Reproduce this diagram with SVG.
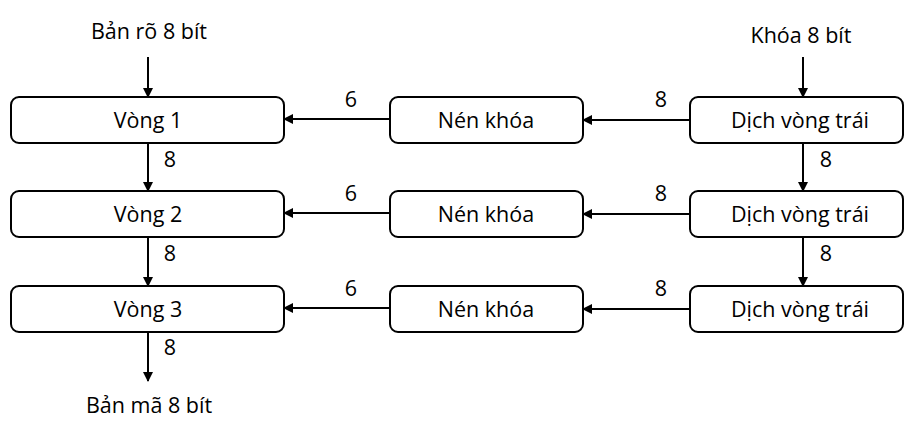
<svg xmlns="http://www.w3.org/2000/svg" width="905" height="421" viewBox="0 0 905 421">
<defs>
<marker id="ah" markerWidth="10" markerHeight="10" refX="9" refY="5" orient="auto" markerUnits="userSpaceOnUse">
<path d="M0,0 L10,5 L0,10 z" fill="#000"/>
</marker>
<style>
.box{fill:#fff;stroke:#000;stroke-width:2}
.t{font-family:"Open Sans","Liberation Sans",sans-serif;font-size:21.5px;fill:#000;text-anchor:middle}
.c{stroke:#000;stroke-width:2;fill:none;marker-end:url(#ah)}
</style>
</defs>
<rect width="905" height="421" fill="#fff"/>
<g id="connectors">
<line class="c" x1="148" y1="57" x2="148" y2="97"/>
<line class="c" x1="803" y1="57" x2="803" y2="97"/>
<line class="c" x1="148" y1="143" x2="148" y2="191"/>
<line class="c" x1="148" y1="237" x2="148" y2="286"/>
<line class="c" x1="148" y1="332" x2="148" y2="381"/>
<line class="c" x1="803" y1="143" x2="803" y2="191"/>
<line class="c" x1="803" y1="237" x2="803" y2="286"/>
<line class="c" x1="690" y1="120" x2="583" y2="120"/>
<line class="c" x1="690" y1="214" x2="583" y2="214"/>
<line class="c" x1="690" y1="309" x2="583" y2="309"/>
<line class="c" x1="390" y1="119" x2="284" y2="119"/>
<line class="c" x1="390" y1="213" x2="284" y2="213"/>
<line class="c" x1="390" y1="308" x2="284" y2="308"/>
<text class="t" x="170" y="167">8</text>
<text class="t" x="170" y="261">8</text>
<text class="t" x="170" y="355">8</text>
<text class="t" x="826" y="167">8</text>
<text class="t" x="826" y="261">8</text>
<text class="t" x="661" y="107">8</text>
<text class="t" x="661" y="201">8</text>
<text class="t" x="661" y="296">8</text>
<text class="t" x="351" y="107">6</text>
<text class="t" x="351" y="201">6</text>
<text class="t" x="351" y="296">6</text>
</g>
<g id="in-plain"><text class="t" x="149" y="39">Bản rõ 8 bít</text></g>
<g id="in-key"><text class="t" x="801" y="43">Khóa 8 bít</text></g>
<g id="out-cipher"><text class="t" x="149" y="413">Bản mã 8 bít</text></g>
<g id="round1"><rect class="box" x="11" y="97" width="273" height="46" rx="8"/><text class="t" x="148" y="128">Vòng 1</text></g>
<g id="round2"><rect class="box" x="11" y="191" width="273" height="46" rx="8"/><text class="t" x="148" y="222">Vòng 2</text></g>
<g id="round3"><rect class="box" x="11" y="286" width="273" height="46" rx="8"/><text class="t" x="148" y="317">Vòng 3</text></g>
<g id="compress1"><rect class="box" x="390" y="97" width="193" height="46" rx="8"/><text class="t" x="486" y="128">Nén khóa</text></g>
<g id="compress2"><rect class="box" x="390" y="191" width="193" height="46" rx="8"/><text class="t" x="486" y="222">Nén khóa</text></g>
<g id="compress3"><rect class="box" x="390" y="286" width="193" height="46" rx="8"/><text class="t" x="486" y="317">Nén khóa</text></g>
<g id="shift1"><rect class="box" x="690" y="97" width="213" height="46" rx="8"/><text class="t" x="800" y="128">Dịch vòng trái</text></g>
<g id="shift2"><rect class="box" x="690" y="191" width="213" height="46" rx="8"/><text class="t" x="800" y="222">Dịch vòng trái</text></g>
<g id="shift3"><rect class="box" x="690" y="286" width="213" height="46" rx="8"/><text class="t" x="800" y="317">Dịch vòng trái</text></g>
</svg>
